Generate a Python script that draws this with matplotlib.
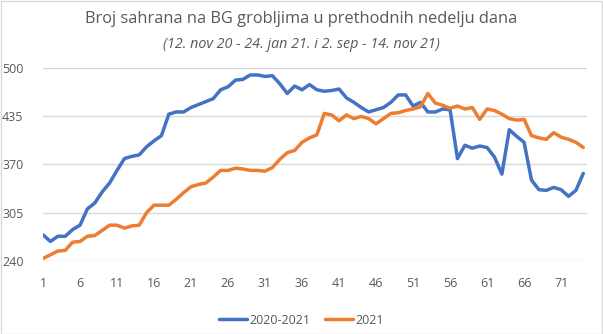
import matplotlib.pyplot as plt
from matplotlib.patches import Rectangle

dani = list(range(1, 75))

s2020_2021 = [275, 266, 273, 273, 282, 288, 310, 318, 333, 345,
              362, 378, 381, 383, 394, 402, 409, 438, 441, 441,
              447, 451, 455, 459, 471, 475, 484, 485, 491, 491,
              489, 490, 479, 466, 476, 471, 478, 471, 469, 470,
              472, 460, 454, 447, 441, 444, 447, 454, 464, 464,
              449, 454, 441, 441, 445, 444, 378, 396, 392, 395,
              393, 380, 357, 417, 408, 400, 349, 336, 335, 339,
              336, 327, 335, 358]

s2021 = [243, 248, 253, 254, 265, 266, 273, 274, 281, 288,
         288, 284, 287, 288, 305, 315, 315, 315, 323, 332,
         340, 343, 345, 353, 362, 362, 365, 364, 362, 362,
         361, 366, 377, 386, 389, 400, 406, 410, 439, 437,
         429, 437, 432, 435, 432, 425, 432, 439, 440, 443,
         445, 448, 466, 453, 450, 446, 449, 445, 447, 431,
         445, 443, 438, 432, 430, 431, 409, 406, 404, 413,
         407, 404, 400, 393]

x_ticks = list(range(1, 75, 5))
y_ticks = [240, 305, 370, 435, 500]

plt.rcParams['font.family'] = ['Open Sans', 'DejaVu Sans']
siva = '#595959'

fig = plt.figure(figsize=(6.03, 3.34), dpi=100)
ax = fig.add_axes([43 / 603, 1 - 260.7 / 334, 544 / 603, 192.4 / 334])

ax.plot(dani, s2020_2021, color='#4472C4', linewidth=2.5, label='2020-2021',
        solid_joinstyle='round', solid_capstyle='round')
ax.plot(dani, s2021, color='#ED7D31', linewidth=2.5, label='2021',
        solid_joinstyle='round', solid_capstyle='round')

ax.set_xlim(1, 74.5)
ax.set_ylim(240, 500)
ax.set_xticks(x_ticks)
ax.set_yticks(y_ticks)
ax.tick_params(length=0, labelsize=9, labelcolor=siva)
ax.tick_params(axis='x', pad=12)
ax.tick_params(axis='y', pad=14)
ax.grid(axis='y', color='#D9D9D9', linewidth=1)
ax.set_axisbelow(True)
for sp in ax.spines.values():
    sp.set_visible(False)

fig.text(0.5, 1 - 19 / 334, 'Broj sahrana na BG grobljima u prethodnih nedelju dana',
         ha='center', va='center', fontsize=11.8, color=siva)
fig.text(0.5, 1 - 45 / 334, '(12. nov 20 - 24. jan 21. i 2. sep - 14. nov 21)',
         ha='center', va='center', fontsize=10.3, color=siva, style='italic')

fig.legend(loc='center', bbox_to_anchor=(0.5, 1 - 320 / 334), ncol=2, frameon=False,
           fontsize=9, labelcolor=siva, handlelength=2.2, handletextpad=0.2,
           columnspacing=1.2)

fig.patches.append(Rectangle((0.5 / 603, 0.5 / 334), 1 - 1.5 / 603, 1 - 1.5 / 334,
                             transform=fig.transFigure, fill=False,
                             edgecolor='#D9D9D9', linewidth=1))

fig.savefig('out.png', dpi=100)
